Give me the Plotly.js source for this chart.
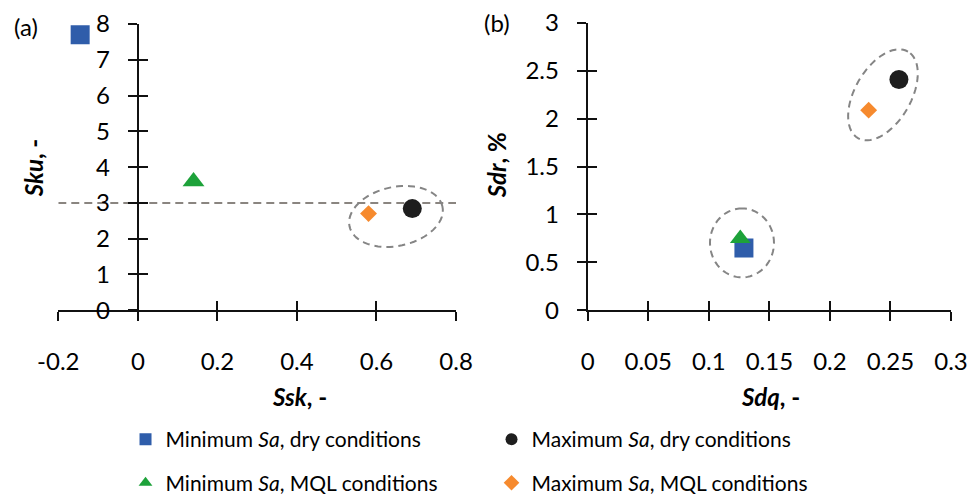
<!DOCTYPE html>
<html>
<head>
<meta charset="utf-8">
<script src="https://cdn.plot.ly/plotly-3.0.1.min.js"></script>
<style>html,body{margin:0;padding:0;background:#fff;}#chart{width:973px;height:504px;}</style>
</head>
<body>
<div id="chart"></div>
<script>
// ---------- data ----------
const seriesNames = [
  'Minimum <i>Sa</i>, dry conditions',
  'Maximum <i>Sa</i>, dry conditions',
  'Minimum <i>Sa</i>, MQL conditions',
  'Maximum <i>Sa</i>, MQL conditions'
];
const ssk = [-0.145, 0.69, 0.14, 0.58];
const sku = [7.7, 2.84, 3.6, 2.7];
const sdq = [0.129, 0.257, 0.126, 0.232];
const sdr = [0.65, 2.41, 0.75, 2.09];
const skuReference = 3;

const xTickValsA = [-0.2, 0, 0.2, 0.4, 0.6, 0.8];
const xTickTextA = ['-0.2', '0', '0.2', '0.4', '0.6', '0.8'];
const yTickValsA = [0, 1, 2, 3, 4, 5, 6, 7, 8];
const yTickTextA = ['0', '1', '2', '3', '4', '5', '6', '7', '8'];
const xTickValsB = [0, 0.05, 0.1, 0.15, 0.2, 0.25, 0.3];
const xTickTextB = ['0', '0.05', '0.1', '0.15', '0.2', '0.25', '0.3'];
const yTickValsB = [0, 0.5, 1, 1.5, 2, 2.5, 3];
const yTickTextB = ['0', '0.5', '1', '1.5', '2', '2.5', '3'];

// ---------- styles ----------
const FONT = 'Lato, "Open Sans", sans-serif';
const colors = ['#2F5DAA', '#1E1E1E', '#1DA23A', '#F68A2E'];
const symbols = ['square', 'circle', 'triangle-up', 'diamond'];
const sizesA = [19, 19, 19, 13];
const sizesB = [19, 19, 18, 13];
const legendIds = ['legend', 'legend', 'legend2', 'legend2'];

const traces = [];
for (let i = 0; i < seriesNames.length; i++) {
  traces.push({
    type: 'scatter', mode: 'markers', x: [ssk[i]], y: [sku[i]],
    xaxis: 'x', yaxis: 'y', name: seriesNames[i], legendgroup: 'g' + i,
    legend: legendIds[i],
    marker: {color: colors[i], symbol: symbols[i], size: sizesA[i], line: {width: 0}},
    hoverinfo: 'x+y'
  });
}
for (let i = 0; i < seriesNames.length; i++) {
  traces.push({
    type: 'scatter', mode: 'markers', x: [sdq[i]], y: [sdr[i]],
    xaxis: 'x2', yaxis: 'y2', name: seriesNames[i], legendgroup: 'g' + i,
    legend: legendIds[i], showlegend: false,
    marker: {color: colors[i], symbol: symbols[i], size: sizesB[i], line: {width: 0}},
    hoverinfo: 'x+y'
  });
}
// invisible companions carrying the overlay axes (for crossing tick marks)
traces.push({type: 'scatter', mode: 'markers', x: ssk, y: sku, xaxis: 'x3', yaxis: 'y3',
  marker: {opacity: 0}, showlegend: false, hoverinfo: 'skip'});
traces.push({type: 'scatter', mode: 'markers', x: sdq, y: sdr, xaxis: 'x4', yaxis: 'y4',
  marker: {opacity: 0}, showlegend: false, hoverinfo: 'skip'});

// ---------- layout geometry ----------
const domXA = [0.0599, 0.4687];
const domYA = [0.3784, 0.9518];
const domXB = [0.604, 0.9774];
const domYB = [0.3784, 0.9538];
const rangeXA = [-0.2, 0.8], rangeYA = [0, 8];
const rangeXB = [0, 0.3], rangeYB = [0, 3];
const yPosA = domXA[0] + (0 - rangeXA[0]) / (rangeXA[1] - rangeXA[0]) * (domXA[1] - domXA[0]);

const tickFont = {family: FONT, size: 24, color: '#000'};
function ax(extra) {
  return Object.assign({
    showline: true, linecolor: '#111', linewidth: 2,
    ticks: 'outside', ticklen: 9, tickwidth: 2, tickcolor: '#111',
    showgrid: false, zeroline: false, fixedrange: true,
    tickfont: tickFont, tickmode: 'array'
  }, extra);
}
function inner(extra) {
  return Object.assign(ax(extra), {ticks: 'inside', showline: false, showticklabels: false});
}

// dashed ellipse outlines (pixel radii, rotation in degrees)
function ellipsePath(a, b, deg) {
  const th = deg * Math.PI / 180;
  let p = '';
  const n = 72;
  for (let k = 0; k <= n; k++) {
    const t = 2 * Math.PI * k / n;
    const x = a * Math.cos(th) * Math.cos(t) - b * Math.sin(th) * Math.sin(t);
    const y = a * Math.sin(th) * Math.cos(t) + b * Math.cos(th) * Math.sin(t);
    p += (k === 0 ? 'M' : 'L') + x.toFixed(2) + ',' + y.toFixed(2);
  }
  return p + 'Z';
}
const dashLine = {color: '#858585', width: 2, dash: '7px,5px'};
function ellipseShape(xref, yref, cx, cy, a, b, deg) {
  return {type: 'path', xref: xref, yref: yref, xsizemode: 'pixel', ysizemode: 'pixel',
    xanchor: cx, yanchor: cy, path: ellipsePath(a, b, deg), line: dashLine, layer: 'above'};
}

const shapes = [
  {type: 'line', xref: 'x', yref: 'y', x0: rangeXA[0], x1: rangeXA[1], y0: skuReference, y1: skuReference,
   line: {color: '#8a8580', width: 2, dash: '8px,5px'}, layer: 'below'},
  ellipseShape('x', 'y', 0.649, 2.62, 47.5, 29.5, 12),
  ellipseShape('x2', 'y2', 0.1274, 0.703, 34.5, 32, 90),
  ellipseShape('x2', 'y2', 0.2438, 2.25, 50, 28, 60)
];

const titleFont = {family: FONT, size: 24, color: '#000'};
function label(text, x, y, angle) {
  return {text: text, xref: 'paper', yref: 'paper', x: x, y: y, xanchor: 'center', yanchor: 'middle',
    textangle: angle || 0, showarrow: false, font: titleFont};
}
const annotations = [
  label('(a)', 26 / 973, 1 - 27 / 504),
  label('(b)', 497 / 973, 1 - 23 / 504),
  label('<b><i>Ssk</i>, -</b>', 299 / 973, 1 - 400 / 504),
  label('<b><i>Sdq</i>, -</b>', 770 / 973, 1 - 400 / 504),
  label('<b><i>Sku</i>, -</b>', 33 / 973, 1 - 170 / 504, -90),
  label('<b><i>Sdr</i>, %</b>', 496 / 973, 1 - 167 / 504, -90)
];

const legendCommon = {
  orientation: 'h', xanchor: 'left', yanchor: 'middle', x: 0.129,
  font: {family: FONT, size: 21, color: '#000'}, itemsizing: 'constant',
  entrywidth: 321, entrywidthmode: 'pixels', bgcolor: 'rgba(0,0,0,0)', borderwidth: 0,
  itemclick: false, itemdoubleclick: false
};

const layout = {
  width: 973, height: 504,
  margin: {l: 0, r: 0, t: 0, b: 0},
  paper_bgcolor: '#fff', plot_bgcolor: 'rgba(0,0,0,0)',
  font: {family: FONT, color: '#000'},
  showlegend: true,
  legend: Object.assign({y: (504 - 444) / 504}, legendCommon),
  legend2: Object.assign({y: (504 - 488) / 504}, legendCommon),
  xaxis: ax({domain: domXA, range: rangeXA, anchor: 'y', tickvals: xTickValsA, ticktext: xTickTextA, ticklabelstandoff: 20}),
  yaxis: ax({domain: domYA, range: rangeYA, anchor: 'free', position: yPosA, tickvals: yTickValsA, ticktext: yTickTextA, ticklabelstandoff: 13}),
  xaxis3: inner({overlaying: 'x', range: rangeXA, anchor: 'y3', tickvals: xTickValsA}),
  yaxis3: inner({overlaying: 'y', range: rangeYA, anchor: 'free', position: yPosA, tickvals: yTickValsA}),
  xaxis2: ax({domain: domXB, range: rangeXB, anchor: 'y2', tickvals: xTickValsB, ticktext: xTickTextB, ticklabelstandoff: 20}),
  yaxis2: ax({domain: domYB, range: rangeYB, anchor: 'x2', tickvals: yTickValsB, ticktext: yTickTextB, ticklabelstandoff: 13}),
  xaxis4: inner({overlaying: 'x2', range: rangeXB, anchor: 'y4', tickvals: xTickValsB}),
  yaxis4: inner({overlaying: 'y2', range: rangeYB, anchor: 'x4', tickvals: yTickValsB}),
  shapes: shapes,
  annotations: annotations
};

Plotly.newPlot('chart', traces, layout, {staticPlot: true, displayModeBar: false});
</script>
</body>
</html>
